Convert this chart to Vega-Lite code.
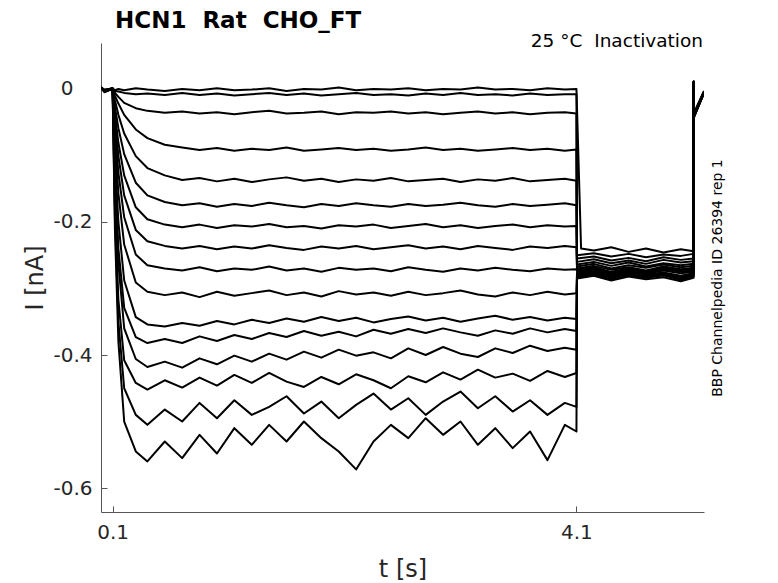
{
  "$schema": "https://vega.github.io/schema/vega-lite/v6.json",
  "width": 603,
  "height": 469,
  "autosize": "none",
  "padding": {"left": 101, "top": 43, "right": 74, "bottom": 71},
  "background": "white",
  "title": {"text": "HCN1\u00a0\u00a0Rat\u00a0\u00a0CHO_FT", "frame": "group", "anchor": "start", "dx": 14, "offset": -1, "font": "DejaVu Sans", "fontSize": 23, "fontWeight": "bold", "color": "black"},
  "datasets": {
    "traces": [
      {"k":1,"t":0,"i":0.002},{"k":1,"t":0.03,"i":-0.004},{"k":1,"t":0.099,"i":0.001},
      {"k":1,"t":0.1,"i":0.001},{"k":1,"t":0.12,"i":-0.002},{"k":1,"t":0.15,"i":0.0},{"k":1,"t":0.2,"i":-0.002},{"k":1,"t":0.3,"i":0.001},{"k":1,"t":0.4,"i":-0.001},{"k":1,"t":0.55,"i":-0.003},{"k":1,"t":0.7,"i":0.0},{"k":1,"t":0.85,"i":-0.002},{"k":1,"t":1.0,"i":0.001},{"k":1,"t":1.15,"i":-0.002},{"k":1,"t":1.3,"i":-0.001},{"k":1,"t":1.45,"i":0.001},{"k":1,"t":1.6,"i":-0.003},{"k":1,"t":1.75,"i":0.0},{"k":1,"t":1.9,"i":-0.001},{"k":1,"t":2.05,"i":0.002},{"k":1,"t":2.2,"i":-0.002},{"k":1,"t":2.35,"i":0.0},{"k":1,"t":2.5,"i":-0.001},{"k":1,"t":2.65,"i":0.001},{"k":1,"t":2.8,"i":-0.002},{"k":1,"t":2.95,"i":0.0},{"k":1,"t":3.1,"i":-0.001},{"k":1,"t":3.25,"i":0.002},{"k":1,"t":3.4,"i":-0.001},{"k":1,"t":3.55,"i":0.0},{"k":1,"t":3.7,"i":-0.002},{"k":1,"t":3.85,"i":0.001},{"k":1,"t":4.0,"i":-0.001},{"k":1,"t":4.1,"i":0.0},
      {"k":1,"t":4.14,"i":-0.24},{"k":1,"t":4.25,"i":-0.243},{"k":1,"t":4.4,"i":-0.238},{"k":1,"t":4.55,"i":-0.245},{"k":1,"t":4.7,"i":-0.24},{"k":1,"t":4.85,"i":-0.246},{"k":1,"t":5.0,"i":-0.241},{"k":1,"t":5.11,"i":-0.244},{"k":1,"t":5.111,"i":0.01},{"k":1,"t":5.113,"i":-0.036},{"k":1,"t":5.2,"i":-0.003},

      {"k":2,"t":0,"i":0.003},{"k":2,"t":0.03,"i":-0.002},{"k":2,"t":0.099,"i":0.0},
      {"k":2,"t":0.1,"i":0.0},{"k":2,"t":0.12,"i":-0.003},{"k":2,"t":0.15,"i":-0.004},{"k":2,"t":0.2,"i":-0.006},{"k":2,"t":0.3,"i":-0.008},{"k":2,"t":0.4,"i":-0.007},{"k":2,"t":0.55,"i":-0.009},{"k":2,"t":0.7,"i":-0.006},{"k":2,"t":0.85,"i":-0.009},{"k":2,"t":1.0,"i":-0.007},{"k":2,"t":1.15,"i":-0.01},{"k":2,"t":1.3,"i":-0.008},{"k":2,"t":1.45,"i":-0.006},{"k":2,"t":1.6,"i":-0.009},{"k":2,"t":1.75,"i":-0.007},{"k":2,"t":1.9,"i":-0.01},{"k":2,"t":2.05,"i":-0.008},{"k":2,"t":2.2,"i":-0.006},{"k":2,"t":2.35,"i":-0.009},{"k":2,"t":2.5,"i":-0.008},{"k":2,"t":2.65,"i":-0.01},{"k":2,"t":2.8,"i":-0.007},{"k":2,"t":2.95,"i":-0.009},{"k":2,"t":3.1,"i":-0.006},{"k":2,"t":3.25,"i":-0.009},{"k":2,"t":3.4,"i":-0.008},{"k":2,"t":3.55,"i":-0.01},{"k":2,"t":3.7,"i":-0.007},{"k":2,"t":3.85,"i":-0.009},{"k":2,"t":4.0,"i":-0.008},{"k":2,"t":4.1,"i":-0.008},
      {"k":2,"t":4.105,"i":-0.25},{"k":2,"t":4.25,"i":-0.247},{"k":2,"t":4.4,"i":-0.252},{"k":2,"t":4.55,"i":-0.248},{"k":2,"t":4.7,"i":-0.253},{"k":2,"t":4.85,"i":-0.249},{"k":2,"t":5.0,"i":-0.251},{"k":2,"t":5.11,"i":-0.248},{"k":2,"t":5.111,"i":0.009},{"k":2,"t":5.113,"i":-0.038},{"k":2,"t":5.2,"i":-0.004},

      {"k":3,"t":0,"i":0.001},{"k":3,"t":0.03,"i":-0.003},{"k":3,"t":0.099,"i":0.001},
      {"k":3,"t":0.1,"i":0.0},{"k":3,"t":0.12,"i":-0.006},{"k":3,"t":0.15,"i":-0.012},{"k":3,"t":0.2,"i":-0.021},{"k":3,"t":0.3,"i":-0.029},{"k":3,"t":0.4,"i":-0.033},{"k":3,"t":0.55,"i":-0.036},{"k":3,"t":0.7,"i":-0.034},{"k":3,"t":0.85,"i":-0.037},{"k":3,"t":1.0,"i":-0.035},{"k":3,"t":1.15,"i":-0.038},{"k":3,"t":1.3,"i":-0.035},{"k":3,"t":1.45,"i":-0.033},{"k":3,"t":1.6,"i":-0.037},{"k":3,"t":1.75,"i":-0.036},{"k":3,"t":1.9,"i":-0.034},{"k":3,"t":2.05,"i":-0.038},{"k":3,"t":2.2,"i":-0.035},{"k":3,"t":2.35,"i":-0.036},{"k":3,"t":2.5,"i":-0.034},{"k":3,"t":2.65,"i":-0.037},{"k":3,"t":2.8,"i":-0.035},{"k":3,"t":2.95,"i":-0.038},{"k":3,"t":3.1,"i":-0.036},{"k":3,"t":3.25,"i":-0.034},{"k":3,"t":3.4,"i":-0.037},{"k":3,"t":3.55,"i":-0.035},{"k":3,"t":3.7,"i":-0.038},{"k":3,"t":3.85,"i":-0.036},{"k":3,"t":4.0,"i":-0.035},{"k":3,"t":4.1,"i":-0.037},
      {"k":3,"t":4.105,"i":-0.255},{"k":3,"t":4.25,"i":-0.252},{"k":3,"t":4.4,"i":-0.258},{"k":3,"t":4.55,"i":-0.254},{"k":3,"t":4.7,"i":-0.259},{"k":3,"t":4.85,"i":-0.253},{"k":3,"t":5.0,"i":-0.257},{"k":3,"t":5.11,"i":-0.255},{"k":3,"t":5.111,"i":0.01},{"k":3,"t":5.113,"i":-0.04},{"k":3,"t":5.2,"i":-0.005},

      {"k":4,"t":0,"i":0.002},{"k":4,"t":0.03,"i":-0.001},{"k":4,"t":0.099,"i":0.0},
      {"k":4,"t":0.1,"i":0.0},{"k":4,"t":0.12,"i":-0.01},{"k":4,"t":0.15,"i":-0.022},{"k":4,"t":0.2,"i":-0.039},{"k":4,"t":0.3,"i":-0.061},{"k":4,"t":0.4,"i":-0.074},{"k":4,"t":0.55,"i":-0.084},{"k":4,"t":0.7,"i":-0.088},{"k":4,"t":0.85,"i":-0.092},{"k":4,"t":1.0,"i":-0.089},{"k":4,"t":1.15,"i":-0.093},{"k":4,"t":1.3,"i":-0.09},{"k":4,"t":1.45,"i":-0.092},{"k":4,"t":1.6,"i":-0.088},{"k":4,"t":1.75,"i":-0.093},{"k":4,"t":1.9,"i":-0.091},{"k":4,"t":2.05,"i":-0.089},{"k":4,"t":2.2,"i":-0.092},{"k":4,"t":2.35,"i":-0.09},{"k":4,"t":2.5,"i":-0.093},{"k":4,"t":2.65,"i":-0.091},{"k":4,"t":2.8,"i":-0.088},{"k":4,"t":2.95,"i":-0.092},{"k":4,"t":3.1,"i":-0.09},{"k":4,"t":3.25,"i":-0.093},{"k":4,"t":3.4,"i":-0.091},{"k":4,"t":3.55,"i":-0.089},{"k":4,"t":3.7,"i":-0.092},{"k":4,"t":3.85,"i":-0.09},{"k":4,"t":4.0,"i":-0.093},{"k":4,"t":4.1,"i":-0.091},
      {"k":4,"t":4.105,"i":-0.26},{"k":4,"t":4.25,"i":-0.256},{"k":4,"t":4.4,"i":-0.262},{"k":4,"t":4.55,"i":-0.258},{"k":4,"t":4.7,"i":-0.263},{"k":4,"t":4.85,"i":-0.257},{"k":4,"t":5.0,"i":-0.261},{"k":4,"t":5.11,"i":-0.259},{"k":4,"t":5.111,"i":0.011},{"k":4,"t":5.113,"i":-0.039},{"k":4,"t":5.2,"i":-0.006},

      {"k":5,"t":0,"i":0.001},{"k":5,"t":0.03,"i":-0.002},{"k":5,"t":0.099,"i":0.001},
      {"k":5,"t":0.1,"i":0.0},{"k":5,"t":0.12,"i":-0.017},{"k":5,"t":0.15,"i":-0.039},{"k":5,"t":0.2,"i":-0.067},{"k":5,"t":0.3,"i":-0.101},{"k":5,"t":0.4,"i":-0.119},{"k":5,"t":0.55,"i":-0.13},{"k":5,"t":0.7,"i":-0.137},{"k":5,"t":0.85,"i":-0.134},{"k":5,"t":1.0,"i":-0.139},{"k":5,"t":1.15,"i":-0.135},{"k":5,"t":1.3,"i":-0.14},{"k":5,"t":1.45,"i":-0.136},{"k":5,"t":1.6,"i":-0.133},{"k":5,"t":1.75,"i":-0.138},{"k":5,"t":1.9,"i":-0.135},{"k":5,"t":2.05,"i":-0.14},{"k":5,"t":2.2,"i":-0.136},{"k":5,"t":2.35,"i":-0.138},{"k":5,"t":2.5,"i":-0.134},{"k":5,"t":2.65,"i":-0.139},{"k":5,"t":2.8,"i":-0.137},{"k":5,"t":2.95,"i":-0.135},{"k":5,"t":3.1,"i":-0.14},{"k":5,"t":3.25,"i":-0.136},{"k":5,"t":3.4,"i":-0.138},{"k":5,"t":3.55,"i":-0.134},{"k":5,"t":3.7,"i":-0.139},{"k":5,"t":3.85,"i":-0.137},{"k":5,"t":4.0,"i":-0.135},{"k":5,"t":4.1,"i":-0.138},
      {"k":5,"t":4.105,"i":-0.264},{"k":5,"t":4.25,"i":-0.26},{"k":5,"t":4.4,"i":-0.266},{"k":5,"t":4.55,"i":-0.261},{"k":5,"t":4.7,"i":-0.267},{"k":5,"t":4.85,"i":-0.262},{"k":5,"t":5.0,"i":-0.265},{"k":5,"t":5.11,"i":-0.263},{"k":5,"t":5.111,"i":0.01},{"k":5,"t":5.113,"i":-0.041},{"k":5,"t":5.2,"i":-0.005},

      {"k":6,"t":0,"i":0.002},{"k":6,"t":0.03,"i":-0.003},{"k":6,"t":0.099,"i":0.0},
      {"k":6,"t":0.1,"i":0.0},{"k":6,"t":0.12,"i":-0.027},{"k":6,"t":0.15,"i":-0.059},{"k":6,"t":0.2,"i":-0.098},{"k":6,"t":0.3,"i":-0.141},{"k":6,"t":0.4,"i":-0.16},{"k":6,"t":0.55,"i":-0.17},{"k":6,"t":0.7,"i":-0.175},{"k":6,"t":0.85,"i":-0.172},{"k":6,"t":1.0,"i":-0.177},{"k":6,"t":1.15,"i":-0.173},{"k":6,"t":1.3,"i":-0.176},{"k":6,"t":1.45,"i":-0.171},{"k":6,"t":1.6,"i":-0.175},{"k":6,"t":1.75,"i":-0.178},{"k":6,"t":1.9,"i":-0.173},{"k":6,"t":2.05,"i":-0.176},{"k":6,"t":2.2,"i":-0.172},{"k":6,"t":2.35,"i":-0.175},{"k":6,"t":2.5,"i":-0.177},{"k":6,"t":2.65,"i":-0.173},{"k":6,"t":2.8,"i":-0.176},{"k":6,"t":2.95,"i":-0.174},{"k":6,"t":3.1,"i":-0.171},{"k":6,"t":3.25,"i":-0.175},{"k":6,"t":3.4,"i":-0.177},{"k":6,"t":3.55,"i":-0.173},{"k":6,"t":3.7,"i":-0.176},{"k":6,"t":3.85,"i":-0.174},{"k":6,"t":4.0,"i":-0.172},{"k":6,"t":4.1,"i":-0.175},
      {"k":6,"t":4.105,"i":-0.267},{"k":6,"t":4.25,"i":-0.263},{"k":6,"t":4.4,"i":-0.27},{"k":6,"t":4.55,"i":-0.265},{"k":6,"t":4.7,"i":-0.269},{"k":6,"t":4.85,"i":-0.264},{"k":6,"t":5.0,"i":-0.268},{"k":6,"t":5.11,"i":-0.266},{"k":6,"t":5.111,"i":0.01},{"k":6,"t":5.113,"i":-0.04},{"k":6,"t":5.2,"i":-0.006},

      {"k":7,"t":0,"i":0.001},{"k":7,"t":0.03,"i":-0.004},{"k":7,"t":0.099,"i":0.0},
      {"k":7,"t":0.1,"i":0.0},{"k":7,"t":0.12,"i":-0.037},{"k":7,"t":0.15,"i":-0.081},{"k":7,"t":0.2,"i":-0.13},{"k":7,"t":0.3,"i":-0.178},{"k":7,"t":0.4,"i":-0.196},{"k":7,"t":0.55,"i":-0.204},{"k":7,"t":0.7,"i":-0.208},{"k":7,"t":0.85,"i":-0.204},{"k":7,"t":1.0,"i":-0.209},{"k":7,"t":1.15,"i":-0.205},{"k":7,"t":1.3,"i":-0.207},{"k":7,"t":1.45,"i":-0.203},{"k":7,"t":1.6,"i":-0.208},{"k":7,"t":1.75,"i":-0.206},{"k":7,"t":1.9,"i":-0.21},{"k":7,"t":2.05,"i":-0.205},{"k":7,"t":2.2,"i":-0.207},{"k":7,"t":2.35,"i":-0.204},{"k":7,"t":2.5,"i":-0.209},{"k":7,"t":2.65,"i":-0.206},{"k":7,"t":2.8,"i":-0.203},{"k":7,"t":2.95,"i":-0.208},{"k":7,"t":3.1,"i":-0.205},{"k":7,"t":3.25,"i":-0.209},{"k":7,"t":3.4,"i":-0.206},{"k":7,"t":3.55,"i":-0.204},{"k":7,"t":3.7,"i":-0.208},{"k":7,"t":3.85,"i":-0.205},{"k":7,"t":4.0,"i":-0.207},{"k":7,"t":4.1,"i":-0.206},
      {"k":7,"t":4.105,"i":-0.27},{"k":7,"t":4.25,"i":-0.266},{"k":7,"t":4.4,"i":-0.272},{"k":7,"t":4.55,"i":-0.268},{"k":7,"t":4.7,"i":-0.273},{"k":7,"t":4.85,"i":-0.267},{"k":7,"t":5.0,"i":-0.271},{"k":7,"t":5.11,"i":-0.269},{"k":7,"t":5.111,"i":0.009},{"k":7,"t":5.113,"i":-0.042},{"k":7,"t":5.2,"i":-0.005},

      {"k":8,"t":0,"i":0.002},{"k":8,"t":0.03,"i":-0.002},{"k":8,"t":0.099,"i":0.001},
      {"k":8,"t":0.1,"i":0.0},{"k":8,"t":0.12,"i":-0.047},{"k":8,"t":0.15,"i":-0.101},{"k":8,"t":0.2,"i":-0.16},{"k":8,"t":0.3,"i":-0.212},{"k":8,"t":0.4,"i":-0.229},{"k":8,"t":0.55,"i":-0.236},{"k":8,"t":0.7,"i":-0.24},{"k":8,"t":0.85,"i":-0.236},{"k":8,"t":1.0,"i":-0.241},{"k":8,"t":1.15,"i":-0.237},{"k":8,"t":1.3,"i":-0.24},{"k":8,"t":1.45,"i":-0.235},{"k":8,"t":1.6,"i":-0.239},{"k":8,"t":1.75,"i":-0.242},{"k":8,"t":1.9,"i":-0.237},{"k":8,"t":2.05,"i":-0.24},{"k":8,"t":2.2,"i":-0.236},{"k":8,"t":2.35,"i":-0.241},{"k":8,"t":2.5,"i":-0.238},{"k":8,"t":2.65,"i":-0.235},{"k":8,"t":2.8,"i":-0.24},{"k":8,"t":2.95,"i":-0.237},{"k":8,"t":3.1,"i":-0.241},{"k":8,"t":3.25,"i":-0.236},{"k":8,"t":3.4,"i":-0.239},{"k":8,"t":3.55,"i":-0.242},{"k":8,"t":3.7,"i":-0.237},{"k":8,"t":3.85,"i":-0.239},{"k":8,"t":4.0,"i":-0.236},{"k":8,"t":4.1,"i":-0.238},
      {"k":8,"t":4.105,"i":-0.272},{"k":8,"t":4.25,"i":-0.268},{"k":8,"t":4.4,"i":-0.275},{"k":8,"t":4.55,"i":-0.27},{"k":8,"t":4.7,"i":-0.274},{"k":8,"t":4.85,"i":-0.269},{"k":8,"t":5.0,"i":-0.273},{"k":8,"t":5.11,"i":-0.271},{"k":8,"t":5.111,"i":0.01},{"k":8,"t":5.113,"i":-0.04},{"k":8,"t":5.2,"i":-0.004},

      {"k":9,"t":0,"i":0.001},{"k":9,"t":0.03,"i":-0.003},{"k":9,"t":0.099,"i":0.0},
      {"k":9,"t":0.1,"i":0.0},{"k":9,"t":0.12,"i":-0.06},{"k":9,"t":0.15,"i":-0.126},{"k":9,"t":0.2,"i":-0.193},{"k":9,"t":0.3,"i":-0.249},{"k":9,"t":0.4,"i":-0.265},{"k":9,"t":0.55,"i":-0.27},{"k":9,"t":0.7,"i":-0.273},{"k":9,"t":0.85,"i":-0.268},{"k":9,"t":1.0,"i":-0.274},{"k":9,"t":1.15,"i":-0.27},{"k":9,"t":1.3,"i":-0.272},{"k":9,"t":1.45,"i":-0.267},{"k":9,"t":1.6,"i":-0.273},{"k":9,"t":1.75,"i":-0.27},{"k":9,"t":1.9,"i":-0.275},{"k":9,"t":2.05,"i":-0.269},{"k":9,"t":2.2,"i":-0.272},{"k":9,"t":2.35,"i":-0.27},{"k":9,"t":2.5,"i":-0.274},{"k":9,"t":2.65,"i":-0.268},{"k":9,"t":2.8,"i":-0.272},{"k":9,"t":2.95,"i":-0.275},{"k":9,"t":3.1,"i":-0.27},{"k":9,"t":3.25,"i":-0.273},{"k":9,"t":3.4,"i":-0.269},{"k":9,"t":3.55,"i":-0.272},{"k":9,"t":3.7,"i":-0.274},{"k":9,"t":3.85,"i":-0.27},{"k":9,"t":4.0,"i":-0.272},{"k":9,"t":4.1,"i":-0.271},
      {"k":9,"t":4.105,"i":-0.274},{"k":9,"t":4.25,"i":-0.27},{"k":9,"t":4.4,"i":-0.277},{"k":9,"t":4.55,"i":-0.272},{"k":9,"t":4.7,"i":-0.276},{"k":9,"t":4.85,"i":-0.271},{"k":9,"t":5.0,"i":-0.275},{"k":9,"t":5.11,"i":-0.273},{"k":9,"t":5.111,"i":0.01},{"k":9,"t":5.113,"i":-0.041},{"k":9,"t":5.2,"i":-0.006},

      {"k":10,"t":0,"i":0.002},{"k":10,"t":0.03,"i":-0.003},{"k":10,"t":0.099,"i":0.001},
      {"k":10,"t":0.1,"i":0.0},{"k":10,"t":0.12,"i":-0.077},{"k":10,"t":0.15,"i":-0.157},{"k":10,"t":0.2,"i":-0.234},{"k":10,"t":0.3,"i":-0.291},{"k":10,"t":0.4,"i":-0.305},{"k":10,"t":0.55,"i":-0.31},{"k":10,"t":0.7,"i":-0.306},{"k":10,"t":0.85,"i":-0.313},{"k":10,"t":1.0,"i":-0.305},{"k":10,"t":1.15,"i":-0.311},{"k":10,"t":1.3,"i":-0.307},{"k":10,"t":1.45,"i":-0.303},{"k":10,"t":1.6,"i":-0.31},{"k":10,"t":1.75,"i":-0.306},{"k":10,"t":1.9,"i":-0.312},{"k":10,"t":2.05,"i":-0.304},{"k":10,"t":2.2,"i":-0.309},{"k":10,"t":2.35,"i":-0.306},{"k":10,"t":2.5,"i":-0.311},{"k":10,"t":2.65,"i":-0.305},{"k":10,"t":2.8,"i":-0.31},{"k":10,"t":2.95,"i":-0.307},{"k":10,"t":3.1,"i":-0.303},{"k":10,"t":3.25,"i":-0.309},{"k":10,"t":3.4,"i":-0.312},{"k":10,"t":3.55,"i":-0.306},{"k":10,"t":3.7,"i":-0.31},{"k":10,"t":3.85,"i":-0.305},{"k":10,"t":4.0,"i":-0.309},{"k":10,"t":4.1,"i":-0.307},
      {"k":10,"t":4.105,"i":-0.276},{"k":10,"t":4.25,"i":-0.272},{"k":10,"t":4.4,"i":-0.279},{"k":10,"t":4.55,"i":-0.274},{"k":10,"t":4.7,"i":-0.278},{"k":10,"t":4.85,"i":-0.273},{"k":10,"t":5.0,"i":-0.277},{"k":10,"t":5.11,"i":-0.275},{"k":10,"t":5.111,"i":0.011},{"k":10,"t":5.113,"i":-0.04},{"k":10,"t":5.2,"i":-0.005},

      {"k":11,"t":0,"i":0.001},{"k":11,"t":0.03,"i":-0.002},{"k":11,"t":0.099,"i":0.0},
      {"k":11,"t":0.1,"i":0.0},{"k":11,"t":0.12,"i":-0.1},{"k":11,"t":0.15,"i":-0.2},{"k":11,"t":0.2,"i":-0.288},{"k":11,"t":0.3,"i":-0.343},{"k":11,"t":0.4,"i":-0.354},{"k":11,"t":0.55,"i":-0.357},{"k":11,"t":0.7,"i":-0.352},{"k":11,"t":0.85,"i":-0.356},{"k":11,"t":1.0,"i":-0.349},{"k":11,"t":1.15,"i":-0.354},{"k":11,"t":1.3,"i":-0.347},{"k":11,"t":1.45,"i":-0.352},{"k":11,"t":1.6,"i":-0.345},{"k":11,"t":1.75,"i":-0.35},{"k":11,"t":1.9,"i":-0.343},{"k":11,"t":2.05,"i":-0.349},{"k":11,"t":2.2,"i":-0.344},{"k":11,"t":2.35,"i":-0.351},{"k":11,"t":2.5,"i":-0.346},{"k":11,"t":2.65,"i":-0.342},{"k":11,"t":2.8,"i":-0.348},{"k":11,"t":2.95,"i":-0.344},{"k":11,"t":3.1,"i":-0.35},{"k":11,"t":3.25,"i":-0.345},{"k":11,"t":3.4,"i":-0.341},{"k":11,"t":3.55,"i":-0.347},{"k":11,"t":3.7,"i":-0.343},{"k":11,"t":3.85,"i":-0.348},{"k":11,"t":4.0,"i":-0.344},{"k":11,"t":4.1,"i":-0.346},
      {"k":11,"t":4.105,"i":-0.278},{"k":11,"t":4.25,"i":-0.274},{"k":11,"t":4.4,"i":-0.28},{"k":11,"t":4.55,"i":-0.275},{"k":11,"t":4.7,"i":-0.279},{"k":11,"t":4.85,"i":-0.276},{"k":11,"t":5.0,"i":-0.281},{"k":11,"t":5.11,"i":-0.277},{"k":11,"t":5.111,"i":0.01},{"k":11,"t":5.113,"i":-0.042},{"k":11,"t":5.2,"i":-0.006},

      {"k":12,"t":0,"i":0.002},{"k":12,"t":0.03,"i":-0.004},{"k":12,"t":0.099,"i":0.0},
      {"k":12,"t":0.1,"i":0.0},{"k":12,"t":0.12,"i":-0.125},{"k":12,"t":0.15,"i":-0.24},{"k":12,"t":0.2,"i":-0.329},{"k":12,"t":0.3,"i":-0.373},{"k":12,"t":0.4,"i":-0.382},{"k":12,"t":0.55,"i":-0.376},{"k":12,"t":0.7,"i":-0.382},{"k":12,"t":0.85,"i":-0.372},{"k":12,"t":1.0,"i":-0.379},{"k":12,"t":1.15,"i":-0.37},{"k":12,"t":1.3,"i":-0.376},{"k":12,"t":1.45,"i":-0.367},{"k":12,"t":1.6,"i":-0.373},{"k":12,"t":1.75,"i":-0.364},{"k":12,"t":1.9,"i":-0.371},{"k":12,"t":2.05,"i":-0.365},{"k":12,"t":2.2,"i":-0.372},{"k":12,"t":2.35,"i":-0.362},{"k":12,"t":2.5,"i":-0.368},{"k":12,"t":2.65,"i":-0.361},{"k":12,"t":2.8,"i":-0.367},{"k":12,"t":2.95,"i":-0.36},{"k":12,"t":3.1,"i":-0.366},{"k":12,"t":3.25,"i":-0.371},{"k":12,"t":3.4,"i":-0.363},{"k":12,"t":3.55,"i":-0.368},{"k":12,"t":3.7,"i":-0.36},{"k":12,"t":3.85,"i":-0.366},{"k":12,"t":4.0,"i":-0.361},{"k":12,"t":4.1,"i":-0.364},
      {"k":12,"t":4.105,"i":-0.279},{"k":12,"t":4.25,"i":-0.276},{"k":12,"t":4.4,"i":-0.282},{"k":12,"t":4.55,"i":-0.277},{"k":12,"t":4.7,"i":-0.281},{"k":12,"t":4.85,"i":-0.278},{"k":12,"t":5.0,"i":-0.283},{"k":12,"t":5.11,"i":-0.279},{"k":12,"t":5.111,"i":0.01},{"k":12,"t":5.113,"i":-0.04},{"k":12,"t":5.2,"i":-0.005},

      {"k":13,"t":0,"i":0.001},{"k":13,"t":0.03,"i":-0.003},{"k":13,"t":0.099,"i":0.001},
      {"k":13,"t":0.1,"i":0.0},{"k":13,"t":0.12,"i":-0.137},{"k":13,"t":0.15,"i":-0.262},{"k":13,"t":0.2,"i":-0.36},{"k":13,"t":0.3,"i":-0.406},{"k":13,"t":0.4,"i":-0.418},{"k":13,"t":0.55,"i":-0.41},{"k":13,"t":0.7,"i":-0.419},{"k":13,"t":0.85,"i":-0.405},{"k":13,"t":1.0,"i":-0.414},{"k":13,"t":1.15,"i":-0.401},{"k":13,"t":1.3,"i":-0.41},{"k":13,"t":1.45,"i":-0.398},{"k":13,"t":1.6,"i":-0.407},{"k":13,"t":1.75,"i":-0.395},{"k":13,"t":1.9,"i":-0.404},{"k":13,"t":2.05,"i":-0.392},{"k":13,"t":2.2,"i":-0.401},{"k":13,"t":2.35,"i":-0.396},{"k":13,"t":2.5,"i":-0.405},{"k":13,"t":2.65,"i":-0.39},{"k":13,"t":2.8,"i":-0.4},{"k":13,"t":2.95,"i":-0.388},{"k":13,"t":3.1,"i":-0.398},{"k":13,"t":3.25,"i":-0.403},{"k":13,"t":3.4,"i":-0.39},{"k":13,"t":3.55,"i":-0.397},{"k":13,"t":3.7,"i":-0.386},{"k":13,"t":3.85,"i":-0.394},{"k":13,"t":4.0,"i":-0.389},{"k":13,"t":4.1,"i":-0.392},
      {"k":13,"t":4.105,"i":-0.28},{"k":13,"t":4.25,"i":-0.277},{"k":13,"t":4.4,"i":-0.283},{"k":13,"t":4.55,"i":-0.278},{"k":13,"t":4.7,"i":-0.282},{"k":13,"t":4.85,"i":-0.279},{"k":13,"t":5.0,"i":-0.284},{"k":13,"t":5.11,"i":-0.28},{"k":13,"t":5.111,"i":0.011},{"k":13,"t":5.113,"i":-0.043},{"k":13,"t":5.2,"i":-0.006},

      {"k":14,"t":0,"i":0.002},{"k":14,"t":0.03,"i":-0.002},{"k":14,"t":0.099,"i":0.0},
      {"k":14,"t":0.1,"i":0.0},{"k":14,"t":0.12,"i":-0.175},{"k":14,"t":0.15,"i":-0.317},{"k":14,"t":0.2,"i":-0.408},{"k":14,"t":0.3,"i":-0.442},{"k":14,"t":0.4,"i":-0.452},{"k":14,"t":0.55,"i":-0.438},{"k":14,"t":0.7,"i":-0.449},{"k":14,"t":0.85,"i":-0.434},{"k":14,"t":1.0,"i":-0.446},{"k":14,"t":1.15,"i":-0.43},{"k":14,"t":1.3,"i":-0.442},{"k":14,"t":1.45,"i":-0.427},{"k":14,"t":1.6,"i":-0.44},{"k":14,"t":1.75,"i":-0.448},{"k":14,"t":1.9,"i":-0.433},{"k":14,"t":2.05,"i":-0.444},{"k":14,"t":2.2,"i":-0.429},{"k":14,"t":2.35,"i":-0.438},{"k":14,"t":2.5,"i":-0.45},{"k":14,"t":2.65,"i":-0.432},{"k":14,"t":2.8,"i":-0.441},{"k":14,"t":2.95,"i":-0.426},{"k":14,"t":3.1,"i":-0.437},{"k":14,"t":3.25,"i":-0.422},{"k":14,"t":3.4,"i":-0.434},{"k":14,"t":3.55,"i":-0.428},{"k":14,"t":3.7,"i":-0.439},{"k":14,"t":3.85,"i":-0.424},{"k":14,"t":4.0,"i":-0.433},{"k":14,"t":4.1,"i":-0.427},
      {"k":14,"t":4.105,"i":-0.281},{"k":14,"t":4.25,"i":-0.278},{"k":14,"t":4.4,"i":-0.284},{"k":14,"t":4.55,"i":-0.279},{"k":14,"t":4.7,"i":-0.283},{"k":14,"t":4.85,"i":-0.28},{"k":14,"t":5.0,"i":-0.285},{"k":14,"t":5.11,"i":-0.281},{"k":14,"t":5.111,"i":0.01},{"k":14,"t":5.113,"i":-0.04},{"k":14,"t":5.2,"i":-0.005},

      {"k":15,"t":0,"i":0.001},{"k":15,"t":0.03,"i":-0.003},{"k":15,"t":0.099,"i":0.0},
      {"k":15,"t":0.1,"i":0.0},{"k":15,"t":0.12,"i":-0.193},{"k":15,"t":0.15,"i":-0.35},{"k":15,"t":0.2,"i":-0.45},{"k":15,"t":0.3,"i":-0.49},{"k":15,"t":0.4,"i":-0.505},{"k":15,"t":0.55,"i":-0.482},{"k":15,"t":0.7,"i":-0.5},{"k":15,"t":0.85,"i":-0.472},{"k":15,"t":1.0,"i":-0.495},{"k":15,"t":1.15,"i":-0.468},{"k":15,"t":1.3,"i":-0.49},{"k":15,"t":1.45,"i":-0.478},{"k":15,"t":1.6,"i":-0.462},{"k":15,"t":1.75,"i":-0.488},{"k":15,"t":1.9,"i":-0.47},{"k":15,"t":2.05,"i":-0.495},{"k":15,"t":2.2,"i":-0.475},{"k":15,"t":2.35,"i":-0.458},{"k":15,"t":2.5,"i":-0.482},{"k":15,"t":2.65,"i":-0.465},{"k":15,"t":2.8,"i":-0.49},{"k":15,"t":2.95,"i":-0.47},{"k":15,"t":3.1,"i":-0.455},{"k":15,"t":3.25,"i":-0.48},{"k":15,"t":3.4,"i":-0.462},{"k":15,"t":3.55,"i":-0.485},{"k":15,"t":3.7,"i":-0.468},{"k":15,"t":3.85,"i":-0.49},{"k":15,"t":4.0,"i":-0.472},{"k":15,"t":4.1,"i":-0.478},
      {"k":15,"t":4.105,"i":-0.283},{"k":15,"t":4.25,"i":-0.279},{"k":15,"t":4.4,"i":-0.286},{"k":15,"t":4.55,"i":-0.281},{"k":15,"t":4.7,"i":-0.284},{"k":15,"t":4.85,"i":-0.28},{"k":15,"t":5.0,"i":-0.287},{"k":15,"t":5.11,"i":-0.282},{"k":15,"t":5.111,"i":0.01},{"k":15,"t":5.113,"i":-0.042},{"k":15,"t":5.2,"i":-0.006},

      {"k":16,"t":0,"i":0.002},{"k":16,"t":0.03,"i":-0.005},{"k":16,"t":0.099,"i":0.0},
      {"k":16,"t":0.1,"i":0.0},{"k":16,"t":0.12,"i":-0.21},{"k":16,"t":0.15,"i":-0.38},{"k":16,"t":0.2,"i":-0.5},{"k":16,"t":0.3,"i":-0.545},{"k":16,"t":0.4,"i":-0.56},{"k":16,"t":0.55,"i":-0.53},{"k":16,"t":0.7,"i":-0.555},{"k":16,"t":0.85,"i":-0.52},{"k":16,"t":1.0,"i":-0.548},{"k":16,"t":1.15,"i":-0.51},{"k":16,"t":1.3,"i":-0.535},{"k":16,"t":1.45,"i":-0.505},{"k":16,"t":1.6,"i":-0.53},{"k":16,"t":1.75,"i":-0.5},{"k":16,"t":1.9,"i":-0.525},{"k":16,"t":2.05,"i":-0.545},{"k":16,"t":2.2,"i":-0.572},{"k":16,"t":2.35,"i":-0.53},{"k":16,"t":2.5,"i":-0.505},{"k":16,"t":2.65,"i":-0.525},{"k":16,"t":2.8,"i":-0.495},{"k":16,"t":2.95,"i":-0.52},{"k":16,"t":3.1,"i":-0.5},{"k":16,"t":3.25,"i":-0.535},{"k":16,"t":3.4,"i":-0.51},{"k":16,"t":3.55,"i":-0.54},{"k":16,"t":3.7,"i":-0.515},{"k":16,"t":3.85,"i":-0.558},{"k":16,"t":4.0,"i":-0.505},{"k":16,"t":4.1,"i":-0.515},
      {"k":16,"t":4.105,"i":-0.285},{"k":16,"t":4.25,"i":-0.281},{"k":16,"t":4.4,"i":-0.288},{"k":16,"t":4.55,"i":-0.282},{"k":16,"t":4.7,"i":-0.286},{"k":16,"t":4.85,"i":-0.283},{"k":16,"t":5.0,"i":-0.289},{"k":16,"t":5.11,"i":-0.284},{"k":16,"t":5.111,"i":0.011},{"k":16,"t":5.113,"i":-0.041},{"k":16,"t":5.2,"i":-0.005}
    ]
  },
  "resolve": {"axis": {"y": "independent"}},
  "layer": [
    {
      "data": {"name": "traces"},
      "mark": {"type": "line", "color": "black", "strokeWidth": 2, "strokeJoin": "round", "clip": true},
      "encoding": {
        "x": {
          "field": "t", "type": "quantitative",
          "scale": {"domain": [0, 5.2], "nice": false, "zero": false},
          "axis": {"title": "t [s]", "values": [0.1, 4.1], "format": ".1f", "grid": false, "tickSize": -6, "labelPadding": 16, "titlePadding": 15}
        },
        "y": {
          "field": "i", "type": "quantitative",
          "scale": {"domain": [-0.636, 0.069], "nice": false, "zero": false},
          "axis": {"title": "I [nA]", "values": [-0.6, -0.4, -0.2, 0], "labelExpr": "datum.value == 0 ? '0\u00a0\u00a0\u00a0\u200b' : '-' + format(abs(datum.value), '.1f')", "grid": false, "tickSize": -6, "labelPadding": 15, "titlePadding": 5}
        },
        "detail": {"field": "k", "type": "nominal"}
      }
    },
    {
      "data": {"values": [{}]},
      "mark": {"type": "text", "text": "25 °C\u00a0\u00a0Inactivation", "align": "right", "baseline": "middle", "dx": -1, "dy": -2, "font": "DejaVu Sans", "fontSize": 18.5, "color": "black"},
      "encoding": {
        "x": {"datum": 5.2, "type": "quantitative"},
        "y": {
          "datum": 0.069, "type": "quantitative",
          "axis": {"orient": "right", "title": "BBP Channelpedia ID 26394 rep 1", "titleAngle": 270, "titleFontSize": 14, "titleFontWeight": "normal", "titleColor": "black", "titlePadding": 20, "labels": false, "ticks": false, "domain": false, "grid": false}
        }
      }
    }
  ],
  "config": {
    "view": {"stroke": null},
    "axis": {
      "domainColor": "#555555",
      "domainWidth": 1,
      "tickColor": "#555555",
      "tickWidth": 1,
      "labelFont": "DejaVu Sans",
      "labelFontSize": 20,
      "labelColor": "#262626",
      "titleFont": "DejaVu Sans",
      "titleFontSize": 24,
      "titleFontWeight": "normal",
      "titleColor": "#262626"
    }
  }
}
